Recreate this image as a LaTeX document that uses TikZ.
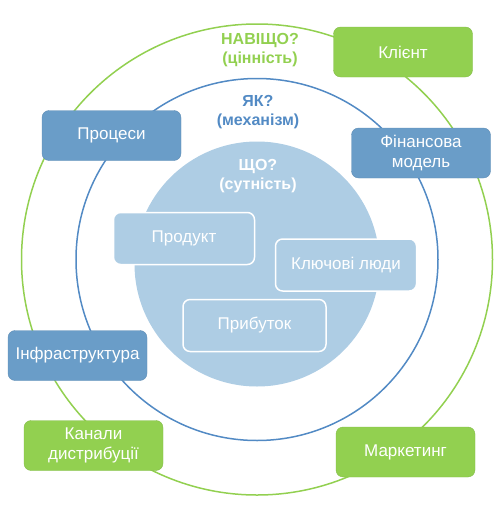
\documentclass[tikz,border=0pt]{standalone}
\usepackage{fontspec}
\setmainfont{Liberation Sans}
\usetikzlibrary{positioning}
\definecolor{valuegreen}{RGB}{146,208,80}
\definecolor{mechblue}{RGB}{106,157,200}
\definecolor{ringblue}{RGB}{82,138,196}
\definecolor{corelight}{RGB}{174,205,228}

\begin{document}
\begin{tikzpicture}[
  x=1pt, y=-1pt,
  font=\fontsize{17}{20}\selectfont,
  ring/.style={line width=1.5pt},
  tag/.style={align=center, font=\fontsize{16}{19}\selectfont\bfseries},
  valuebox/.style={fill=valuegreen, draw=valuegreen!90!black, rounded corners=2.5mm,
    text=white, align=center, minimum width=139pt, minimum height=50pt},
  mechbox/.style={valuebox, fill=mechblue, draw=mechblue!90!black},
  corebox/.style={valuebox, fill=corelight, draw=white, line width=1.5pt,
    minimum width=141pt, minimum height=52pt}
]
  \useasboundingbox (0,0) rectangle (501,512);

  % three rings
  \draw[ring, valuegreen] (257,259.5) circle [radius=235.5];
  \draw[ring, ringblue] (257,259.5) circle [radius=181];
  \fill[corelight] (257,264) circle [radius=122.5];

  \node[tag, text=valuegreen] (why) at (260,50) {НАВІЩО?\\(цінність)};
  \node[tag, text=ringblue] (how) at (258,112) {ЯК?\\(механізм)};
  \node[tag, text=white] (what) at (258,176) {ЩО?\\(сутність)};

  % value
  \node[valuebox] (client) at (403,52) {Клієнт};
  \node[valuebox] (channels) at (93.5,445.5) {Канали\\дистрибуції};
  \node[valuebox] (marketing) at (405.5,452) {Маркетинг};

  % mechanism
  \node[mechbox] (processes) at (111.5,135.5) {Процеси};
  \node[mechbox] (finance) at (421,153) {Фінансова\\модель};
  \node[mechbox] (infra) at (77.5,355.5) {Інфраструктура};

  % core
  \node[corebox] (product) at (184,238.5) {Продукт};
  \node[corebox] (people) at (346,265) {Ключові люди};
  \node[corebox, minimum width=143pt] (profit) at (254.5,325.5) {Прибуток};
\end{tikzpicture}
\end{document}
